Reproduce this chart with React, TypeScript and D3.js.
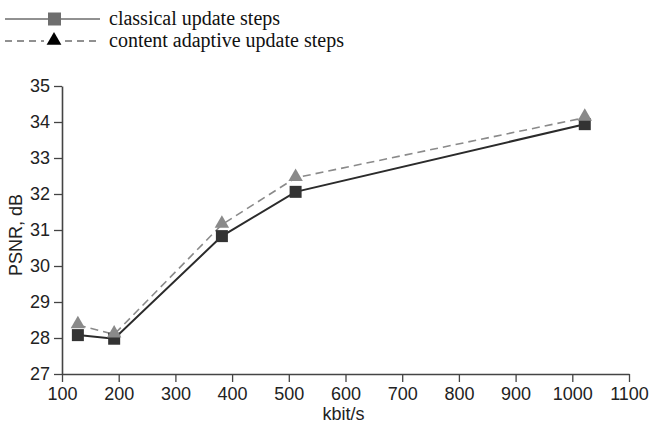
import React, { useRef, useEffect } from "react";
import * as d3 from "d3";

const bitrates = [128, 192, 382, 512, 1022];
const classical = [28.08, 27.98, 30.83, 32.06, 33.94];
const adaptive = [28.36, 28.1, 31.15, 32.45, 34.12];
const xTicks = [100, 200, 300, 400, 500, 600, 700, 800, 900, 1000, 1100];
const yTicks = [27, 28, 29, 30, 31, 32, 33, 34, 35];
const legendLabels = ["classical update steps", "content adaptive update steps"];

export default function App() {
  const svgRef = useRef<SVGSVGElement | null>(null);

  const W = 653, H = 425;
  const margin = { top: 86, right: 24, bottom: 51, left: 62 };
  const width = W - margin.left - margin.right;
  const height = H - margin.top - margin.bottom;

  useEffect(() => {
    const root = d3.select(svgRef.current);
    root.selectAll("*").remove();

    const svg = root.append("g")
      .attr("transform", "translate(" + margin.left + "," + margin.top + ")");

    const x = d3.scaleLinear().domain([100, 1100]).range([0, width]);
    const y = d3.scaleLinear().domain([27, 35]).range([height, 0]);

    const sans = "'Liberation Sans', Arial, sans-serif";
    const serif = "'Liberation Serif', 'Times New Roman', serif";

    // x axis
    const gx = svg.append("g")
      .attr("transform", "translate(0," + height + ")")
      .call(d3.axisBottom(x).tickValues(xTicks).tickFormat(d3.format("d"))
        .tickSize(8).tickPadding(5).tickSizeOuter(0));
    // y axis
    const gy = svg.append("g")
      .call(d3.axisLeft(y).tickValues(yTicks).tickFormat(d3.format("d"))
        .tickSize(8).tickPadding(4).tickSizeOuter(0));

    [gx, gy].forEach(g => {
      g.select(".domain").attr("stroke", "#444").attr("stroke-width", 1.6);
      g.selectAll(".tick line").attr("stroke", "#444").attr("stroke-width", 1.3);
      g.selectAll(".tick text")
        .attr("fill", "#222")
        .attr("font-family", sans)
        .attr("font-size", "18px");
    });

    // adaptive line (dashed, gray)
    const pts = bitrates.map((b, i) => ({ b, v: adaptive[i] }));
    svg.append("path")
      .datum(pts)
      .attr("fill", "none")
      .attr("stroke", "#8a8a8a")
      .attr("stroke-width", 1.6)
      .attr("stroke-dasharray", "8,5")
      .attr("d", d3.line<any>()
        .x(d => x(d.b))
        .y(d => y(d.v)));

    // classical line
    const cpts = bitrates.map((b, i) => ({ b, v: classical[i] }));
    svg.append("path")
      .datum(cpts)
      .attr("fill", "none")
      .attr("stroke", "#2b2b2b")
      .attr("stroke-width", 2)
      .attr("d", d3.line<any>()
        .x(d => x(d.b))
        .y(d => y(d.v)));

    const tri = d3.symbol().type(d3.symbolTriangle).size(90);

    // square markers
    svg.selectAll("rect.sq")
      .data(cpts)
      .enter().append("rect")
      .attr("class", "sq")
      .attr("x", d => x(d.b) - 6)
      .attr("y", d => y(d.v) - 6)
      .attr("width", 12)
      .attr("height", 12)
      .attr("fill", "#333");

    // triangle markers
    svg.selectAll("path.tri")
      .data(pts)
      .enter().append("path")
      .attr("class", "tri")
      .attr("d", tri)
      .attr("transform", d => "translate(" + x(d.b) + "," + (y(d.v) - 1) + ")")
      .attr("fill", "#8a8a8a");

    // axis titles
    root.append("text")
      .attr("x", margin.left + x(600) - 2)
      .attr("y", 420)
      .attr("text-anchor", "middle")
      .attr("font-family", sans)
      .attr("font-size", "18px")
      .attr("fill", "#222")
      .text("kbit/s");

    root.append("text")
      .attr("transform", "translate(22,235) rotate(-90)")
      .attr("text-anchor", "middle")
      .attr("font-family", sans)
      .attr("font-size", "18px")
      .attr("fill", "#222")
      .text("PSNR, dB");

    // legend
    const leg = root.append("g");
    const rows = [19, 41];
    leg.append("line")
      .attr("x1", 5).attr("x2", 100).attr("y1", rows[0]).attr("y2", rows[0])
      .attr("stroke", "#222").attr("stroke-width", 1);
    leg.append("rect")
      .attr("x", 48).attr("y", rows[0] - 6.5).attr("width", 13).attr("height", 13)
      .attr("fill", "#6e6e6e");
    leg.append("line")
      .attr("x1", 5).attr("x2", 100).attr("y1", rows[1]).attr("y2", rows[1])
      .attr("stroke", "#222").attr("stroke-width", 1)
      .attr("stroke-dasharray", "7,5");
    leg.append("rect")
      .attr("x", 44).attr("y", rows[1] - 4).attr("width", 18).attr("height", 8)
      .attr("fill", "#fff");
    leg.append("path")
      .attr("d", d3.symbol().type(d3.symbolTriangle).size(95)())
      .attr("transform", "translate(54," + (rows[1] - 0.5) + ")")
      .attr("fill", "#000");
    legendLabels.forEach((t, i) => {
      leg.append("text")
        .attr("x", 109)
        .attr("y", rows[i] + 6)
        .attr("font-family", serif)
        .attr("font-size", "20px")
        .attr("fill", "#111")
        .text(t);
    });
  }, []);

  return (
    <svg ref={svgRef} width={W} height={H}
      style={{ position: "absolute", left: 0, top: 0, background: "#fff" }} />
  );
}
